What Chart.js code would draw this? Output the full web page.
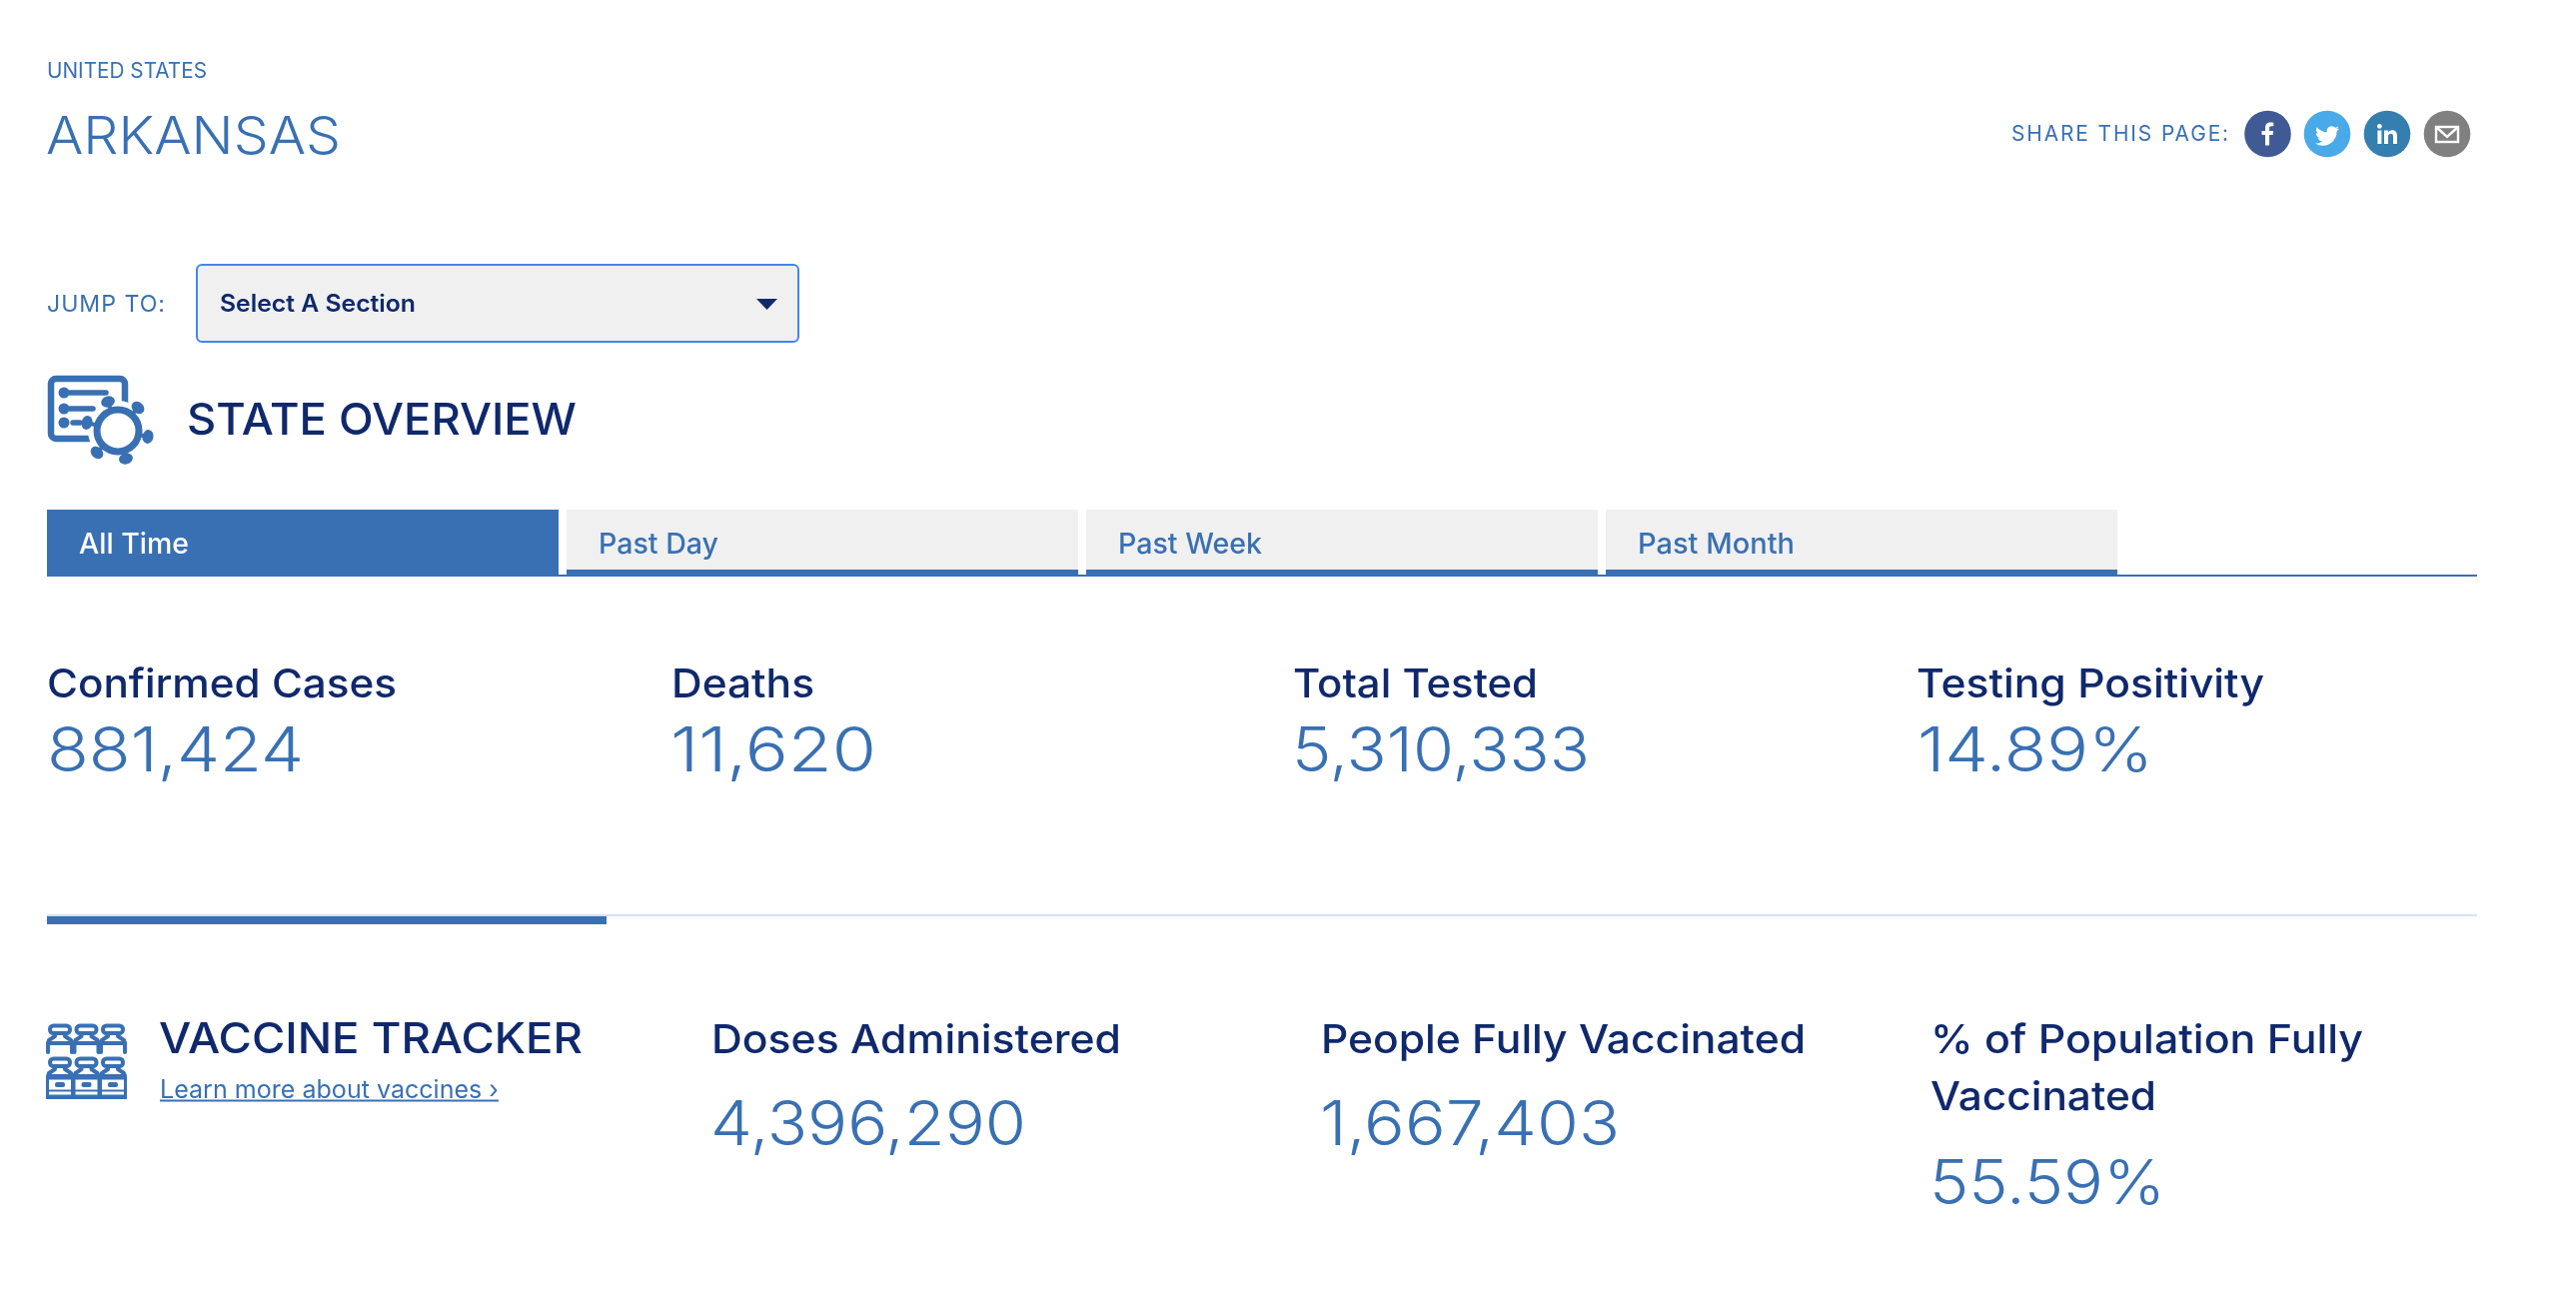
<!DOCTYPE html>
<html lang="en">
<head>
<meta charset="utf-8">
<title>Arkansas</title>
<script src="https://cdn.jsdelivr.net/npm/chart.js@4"></script>
<style>
html,body{margin:0;padding:0;background:#fff;overflow:hidden}
#wrap{position:relative;width:2578px;height:1314px}
canvas{display:block}
</style>
</head>
<body>
<div id="wrap"><canvas id="page" width="2578" height="1314"></canvas></div>
<script>
// ---- data ----
const metricLabels = ["Confirmed Cases","Deaths","Total Tested","Testing Positivity","Doses Administered","People Fully Vaccinated",["% of Population Fully","Vaccinated"]];
const metricValues = [881424,11620,5310333,14.89,4396290,1667403,55.59];
const metricUnits  = ["","","","%","","","%"];
const tabLabels    = ["All Time","Past Day","Past Week","Past Month"];

const regionText  = "UNITED STATES";
const titleText   = "ARKANSAS";
const shareText   = "SHARE THIS PAGE:";
const jumpText    = "JUMP TO:";
const selectText  = "Select A Section";
const sectionText = "STATE OVERVIEW";
const vaccineText = "VACCINE TRACKER";
const learnText   = "Learn more about vaccines ›";

// ---- styles and layout ----
const NAVY="#10296c", BLUE="#3970b3", GREY="#f0f0f0", FF="Inter, 'Noto Sans', sans-serif";
const metricSlots=[
  {x:47,  y:698, w:350, vx:47,  vy:772, vw:257},
  {x:672, y:698, w:143, vx:671, vy:772, vw:206},
  {x:1294,y:698, w:245, vx:1293,vy:772, vw:298},
  {x:1918,y:698, w:348, vx:1919,vy:772, vw:236},
  {x:712, y:1054,w:410, vx:711, vy:1146,vw:316},
  {x:1322,y:1054,w:485, vx:1321,vy:1146,vw:300},
  {x:1932,y:1054,w:433, w2:226, y2:1111, vx:1931,vy:1205,vw:236}
];
const tabSlots=[
  {x:47,  w:512, tx:79,  tw:110},
  {x:567, w:512, tx:599, tw:120},
  {x:1087,w:512, tx:1119,tw:144},
  {x:1607,w:512, tx:1639,tw:157}
];

function put(c,text,x,y,w,size,weight,color,ls){
  c.save();
  c.font=weight+" "+size+"px "+FF;
  c.letterSpacing=(ls||0)+"px";
  c.textBaseline="alphabetic";
  c.textAlign="left";
  c.fillStyle=color;
  const m=c.measureText(text).width;
  c.translate(x,y);
  c.scale(w/m,1);
  c.fillText(text,0,0);
  c.restore();
}
function fmt(v,u){
  return u==="%" ? v.toFixed(2)+"%" : v.toLocaleString("en-US");
}
function rrect(c,x,y,w,h,r){c.beginPath();c.roundRect(x,y,w,h,r);}

function stateIcon(c){
  c.save();
  c.strokeStyle=BLUE;c.fillStyle=BLUE;c.lineCap="round";
  c.lineWidth=6.5;
  rrect(c,51,379,74,60,5);c.stroke();
  // list rows
  [[393,108],[409,95],[423,82]].forEach(([y,e],i)=>{
    c.beginPath();c.arc(64,y,5.5,0,7);c.fill();
    c.lineWidth=5.5;c.beginPath();c.moveTo(i===2?73:70,y);c.lineTo(e-2,y);c.stroke();
  });
  // knock out behind the virus
  c.fillStyle="#fff";
  c.beginPath();c.arc(118,431,30,0,7);c.fill();
  c.beginPath();c.rect(94,441.5,40,8);c.fill();
  c.fillStyle=BLUE;
  c.lineWidth=7;
  c.beginPath();c.arc(118,431,21,0,7);c.stroke();
  // spikes
  [[108,402],[138,408],[148,437],[126,459],[97,453],[87,423]].forEach(([x,y])=>{
    const a=Math.atan2(y-431,x-118);
    c.lineWidth=4;
    c.beginPath();c.moveTo(118+Math.cos(a)*22,431+Math.sin(a)*22);c.lineTo(x,y);c.stroke();
    c.beginPath();c.ellipse(x,y,7,5.5,a+Math.PI/2,0,7);c.fill();
  });
  c.restore();
}
function vial(c,cx,capY,bodyBottom,closed){
  const L=cx-12,R=cx+12;
  c.lineWidth=4;
  rrect(c,cx-10,capY+1.5,20,7.5,3.5);c.stroke();
  c.beginPath();
  c.moveTo(cx-5,capY+9);c.lineTo(cx-5,capY+12);c.lineTo(L+1,capY+16);c.lineTo(L,capY+19);c.lineTo(L,bodyBottom);
  c.moveTo(cx+5,capY+9);c.lineTo(cx+5,capY+12);c.lineTo(R-1,capY+16);c.lineTo(R,capY+19);c.lineTo(R,bodyBottom);
  c.moveTo(L,capY+19);c.lineTo(R,capY+19);
  c.stroke();
  if(closed){
    c.fillRect(L-2,capY+19,28,bodyBottom-capY-17);
    c.fillStyle="#fff";
    c.fillRect(L+1,capY+22.5,22,10);
    c.fillRect(L+1,capY+34.5,22,3);
    c.fillStyle=BLUE;
    rrect(c,cx-5,capY+25,10,5,2);c.fill();
  }
}
function vaccineIcon(c){
  c.save();
  c.strokeStyle=BLUE;c.fillStyle=BLUE;c.lineCap="round";c.lineJoin="round";
  [60,86.5,113].forEach(cx=>{
    vial(c,cx,1025,1053,false);
    vial(c,cx,1058,1098,true);
  });
  c.restore();
}
function shareIcons(c){
  [[2269.5,"#3f5a95"],[2329,"#4aa9e8"],[2389,"#357eb0"],[2449,"#808080"]].forEach(([x,col])=>{
    c.fillStyle=col;c.beginPath();c.arc(x,134,23.3,0,7);c.fill();
  });
  c.fillStyle="#fff";c.strokeStyle="#fff";
  // facebook
  c.save();c.translate(2269.5-6,134-11.5);
  c.fill(new Path2D("M3.5 23V12.5H0V8.5H3.5V5.5C3.5 1.8 5.6 0 8.7 0C10.2 0 11.4.1 11.8.2V3.8H9.7C8 3.8 7.6 4.6 7.6 5.8V8.5H11.6L11.1 12.5H7.6V23Z"));
  c.restore();
  // twitter
  c.save();c.translate(2329-12,134-10);
  c.fill(new Path2D("M23.953 4.57a10 10 0 01-2.825.775 4.958 4.958 0 002.163-2.723c-.951.555-2.005.959-3.127 1.184a4.92 4.92 0 00-8.384 4.482C7.69 8.095 4.067 6.13 1.64 3.162a4.822 4.822 0 00-.666 2.475c0 1.71.87 3.213 2.188 4.096a4.904 4.904 0 01-2.228-.616v.06a4.923 4.923 0 003.946 4.827 4.996 4.996 0 01-2.212.085 4.936 4.936 0 004.604 3.417 9.867 9.867 0 01-6.102 2.105c-.39 0-.779-.023-1.17-.067a13.995 13.995 0 007.557 2.209c9.053 0 13.998-7.496 13.998-13.985 0-.21 0-.42-.015-.63A9.935 9.935 0 0024 4.59z"));
  c.restore();
  // linkedin
  c.save();c.translate(2379,124);
  c.beginPath();c.arc(2.4,2.4,2.4,0,7);c.fill();
  c.fillRect(.4,6.5,4,13.5);
  c.fill(new Path2D("M7 6.5H11V8.4C11.8 7 13.2 6.2 15 6.2C18.6 6.2 20 8.4 20 12V20H16V12.8C16 10.9 15.4 9.8 13.8 9.8C12.1 9.8 11 10.9 11 12.9V20H7Z"));
  c.restore();
  // mail
  c.save();c.lineWidth=2.4;c.lineJoin="miter";
  c.strokeRect(2438,127,22,15);
  c.beginPath();c.moveTo(2438,127);c.lineTo(2449,137);c.lineTo(2460,127);c.stroke();
  c.restore();
}

const pagePlugin={
  id:"pagePlugin",
  afterDraw(chart){
    const c=chart.ctx;
    c.save();
    // header
    put(c,regionText,47,78,160,21,400,BLUE);
    put(c,titleText,46,154,295,52,300,BLUE);
    put(c,shareText,2013,141,219,22,400,BLUE,2);
    shareIcons(c);
    // jump-to control
    put(c,jumpText,47,312,119,23,400,BLUE,1);
    c.fillStyle=GREY;c.strokeStyle="#4285f4";c.lineWidth=2;
    rrect(c,197,265,602,77,5);c.fill();c.stroke();
    put(c,selectText,220,312,196,24,600,NAVY);
    c.fillStyle=NAVY;c.beginPath();c.moveTo(757,299);c.lineTo(778,299);c.lineTo(767.5,310);c.closePath();c.fill();
    // section heading
    stateIcon(c);
    put(c,sectionText,187,435,390,44,500,NAVY);
    // tabs
    tabSlots.forEach((s,i)=>{
      c.fillStyle=i===0?BLUE:GREY;c.fillRect(s.x,510,s.w,67);
      if(i>0){c.fillStyle=BLUE;c.fillRect(s.x,570,s.w,7);}
      put(c,tabLabels[i],s.tx,554,s.tw,29,500,i===0?"#fff":BLUE);
    });
    c.fillStyle=BLUE;c.fillRect(47,575,2432,2);
    // divider
    c.fillStyle="#d2e3fa";c.fillRect(47,915,2432,2);
    c.fillStyle=BLUE;c.fillRect(47,917,560,8);
    // vaccine heading
    vaccineIcon(c);
    put(c,vaccineText,159,1054,424,42,500,NAVY);
    put(c,learnText,160,1099,339,25,400,BLUE);
    c.fillStyle=BLUE;c.fillRect(160,1100.5,339,2);
    // metrics come from the chart's own data
    const vals=chart.data.datasets[0].data;
    chart.data.labels.forEach((lab,i)=>{
      const s=metricSlots[i];
      if(Array.isArray(lab)){
        put(c,lab[0],s.x,s.y,s.w,40,500,NAVY);
        put(c,lab[1],s.x,s.y2,s.w2,40,500,NAVY);
      }else{
        put(c,lab,s.x,s.y,s.w,40,500,NAVY);
      }
      put(c,fmt(vals[i],metricUnits[i]),s.vx,s.vy,s.vw,62,300,BLUE);
    });
    c.restore();
  }
};

new Chart(document.getElementById("page"),{
  type:"bar",
  data:{labels:metricLabels,datasets:[{label:"Arkansas",data:metricValues,backgroundColor:"rgba(0,0,0,0)",borderWidth:0}]},
  options:{
    responsive:false,animation:false,devicePixelRatio:1,
    plugins:{legend:{display:false},title:{display:false},tooltip:{enabled:false}},
    scales:{x:{display:false},y:{display:false}}
  },
  plugins:[pagePlugin]
});
</script>
</body>
</html>
